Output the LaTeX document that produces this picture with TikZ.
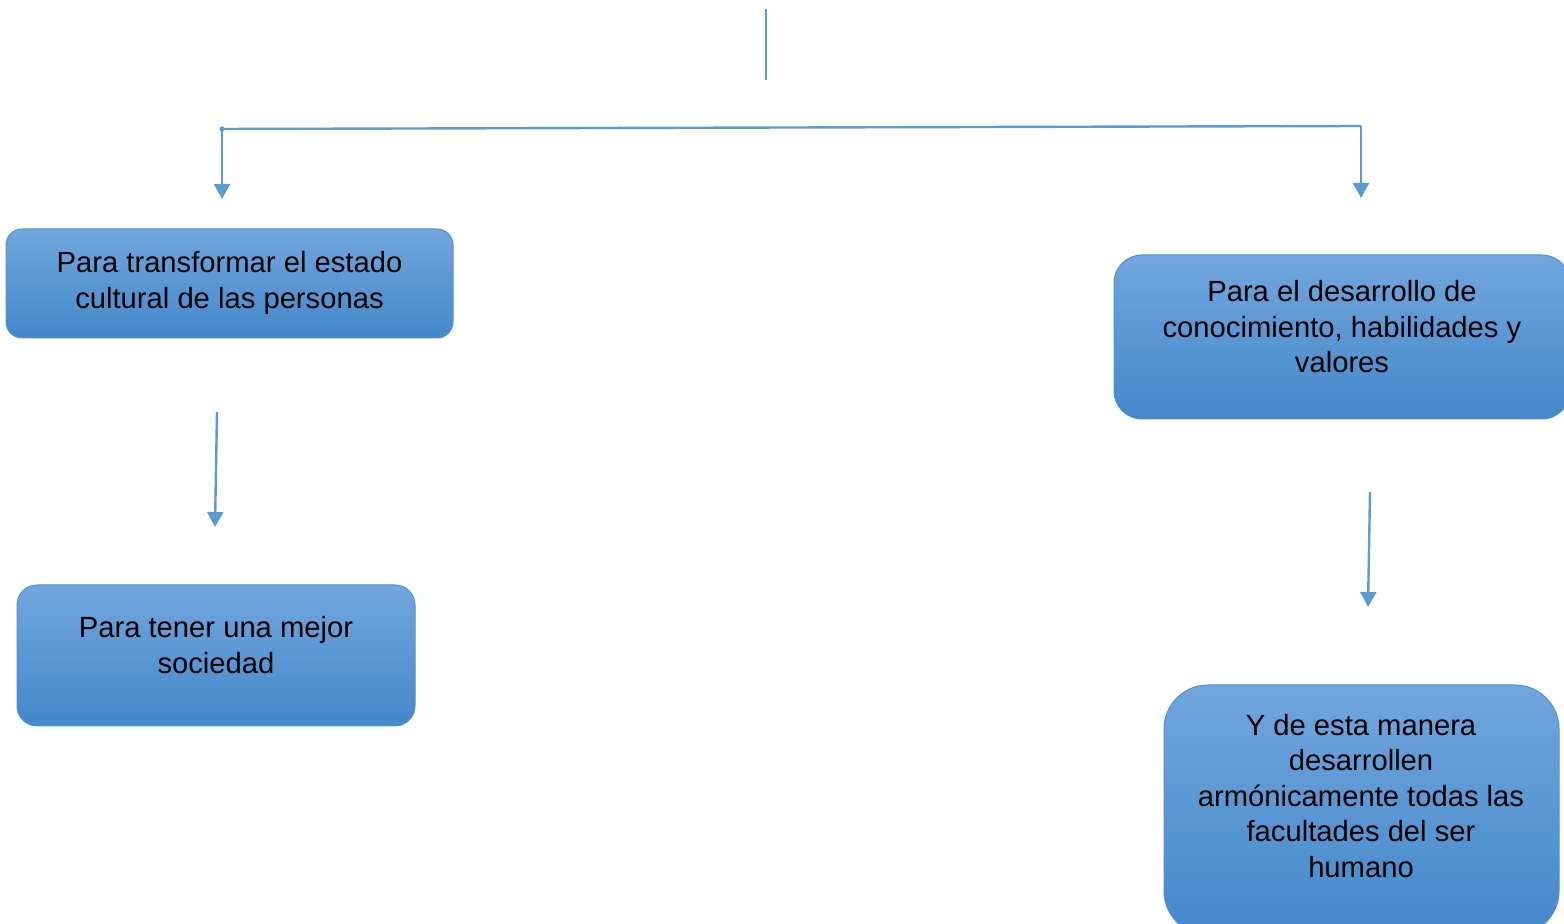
\documentclass[tikz,border=0pt]{standalone}
\usepackage{fontspec}
\setmainfont{Liberation Sans}
\usetikzlibrary{arrows.meta}
\definecolor{lineblue}{RGB}{91,155,213}
\definecolor{topblue}{RGB}{113,166,221}
\definecolor{botblue}{RGB}{68,136,202}
\definecolor{edgeblue}{RGB}{80,145,210}
\begin{document}
\begin{tikzpicture}[x=0.5pt,y=-0.5pt,
  box/.style={draw=edgeblue, line width=0.5pt, rounded corners=#1, top color=topblue, bottom color=botblue, inner sep=0pt},
  box/.default=8pt,
  txt/.style={align=center, font=\fontsize{14.6}{17.75}\selectfont, inner sep=0pt},
  conn/.style={draw=lineblue, line width=1.2pt},
  arr/.style={conn, -{Triangle[width=8pt,length=7.5pt]}}]
\useasboundingbox (0,0) rectangle (1564,924);
% boxes
\node[box=8pt, minimum width=223.5pt, minimum height=54.5pt] (A) at (229.5,283.5) {};
\node[box=14pt, minimum width=228pt, minimum height=82pt] (B) at (1342,337) {};
\node[box=10pt, minimum width=199pt, minimum height=70.5pt] (C) at (216,655.5) {};
\node[box=22pt, minimum width=197.5pt, minimum height=125pt] (D) at (1361.5,810) {};
% texts
\node[txt] (tA) at (229.5,283) {Para transformar el estado\\cultural de las personas};
\node[txt] (tB) at (1342,327) {Para el desarrollo de\\conocimiento, habilidades y\\valores};
\node[txt] (tC) at (216,645) {Para tener una mejor\\sociedad};
\node[txt] (tD) at (1361,796) {Y de esta manera\\desarrollen\\armónicamente todas las\\facultades del ser\\humano};
% connectors
\coordinate (top1) at (766,9);
\coordinate (top2) at (766,80);
\draw[conn] (top1) -- (top2);
\coordinate (hl) at (222,129);
\coordinate (hr) at (1361,126);
\draw[conn] (hl) -- (hr);
\fill[lineblue] (hl) circle (1.3pt);
\coordinate (al) at (222,199);
\coordinate (ar) at (1361,198);
\draw[arr] (hl) -- (al);
\draw[arr] (hr) -- (ar);
\coordinate (s1) at (217,412);
\coordinate (e1) at (215,527);
\draw[arr] (s1) -- (e1);
\coordinate (s2) at (1370,492);
\coordinate (e2) at (1368,607);
\draw[arr] (s2) -- (e2);
\end{tikzpicture}
\end{document}
